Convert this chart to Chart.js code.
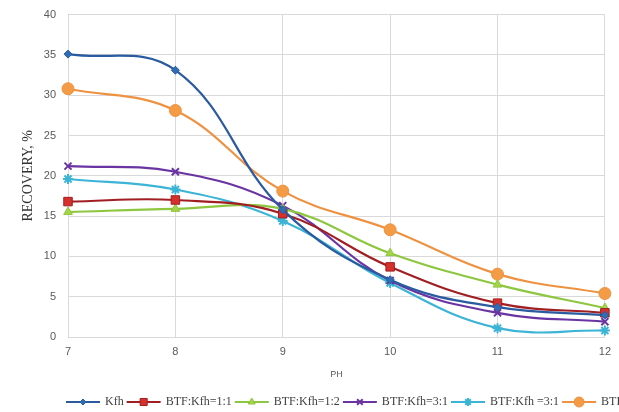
<!DOCTYPE html>
<html>
<head>
<meta charset="utf-8">
<script src="https://cdn.jsdelivr.net/npm/chart.js@4.4.1/dist/chart.umd.min.js"></script>
<style>
  body { margin: 0; background: #fff; overflow: hidden; }
  #myChart { display: block; margin-top: -4px; }
</style>
</head>
<body>
<canvas id="myChart" width="619" height="416"></canvas>
<script>
const phLabels = ['7', '8', '9', '10', '11', '12'];
const yTicks = [0, 5, 10, 15, 20, 25, 30, 35, 40];

const kfh   = [35.1, 33.1, 15.8, 7.1, 3.7, 2.7];
const btf11 = [16.8, 17.0, 15.3, 8.7, 4.2, 3.0];
const btf12 = [15.5, 15.9, 15.9, 10.4, 6.5, 3.6];
const btf31 = [21.2, 20.5, 16.3, 7.0, 3.0, 1.9];
const btf31b = [19.6, 18.3, 14.4, 6.7, 1.1, 0.8];
const btfLast = [30.8, 28.1, 18.1, 13.3, 7.8, 5.4];

const seriesNames = ['Kfh', 'BTF:Kfh=1:1', 'BTF:Kfh=1:2', 'BTF:Kfh=3:1', 'BTF:Kfh =3:1', 'BTF:Kfh=1:3'];

function ds(label, data, line, fill, style, r) {
  return {
    label: label,
    data: data,
    borderColor: line,
    backgroundColor: fill,
    pointBorderColor: line,
    pointBackgroundColor: fill,
    pointStyle: style,
    pointRadius: r,
    pointBorderWidth: style === 'crossRot' || style === 'star' ? 2 : 1,
    borderWidth: 2.2,
    tension: 0.4,
    fill: false
  };
}

// legend drawn by hand so it runs off the right edge like the original
const legendPlugin = {
  id: 'cutLegend',
  afterDraw(chart) {
    const ctx = chart.ctx;
    const y = 406;
    let x = 66;
    ctx.save();
    ctx.font = '12px "Liberation Serif", serif';
    ctx.textBaseline = 'middle';
    chart.data.datasets.forEach(d => {
      ctx.strokeStyle = d.borderColor;
      ctx.lineWidth = 2;
      ctx.beginPath();
      ctx.moveTo(x, y);
      ctx.lineTo(x + 34, y);
      ctx.stroke();
      ctx.fillStyle = d.pointBackgroundColor;
      ctx.strokeStyle = d.pointBorderColor;
      ctx.lineWidth = d.pointBorderWidth;
      Chart.helpers.drawPoint(ctx, {
        pointStyle: d.pointStyle, radius: d.pointRadius - 1, rotation: 0, borderWidth: d.pointBorderWidth
      }, x + 17, y);
      x += 39;
      ctx.fillStyle = '#404040';
      ctx.fillText(d.label, x, y);
      x += ctx.measureText(d.label).width + 3;
    });
    ctx.restore();
  }
};

const ctx = document.getElementById('myChart');

new Chart(ctx, {
  type: 'line',
  data: {
    labels: phLabels,
    datasets: [
      ds(seriesNames[0], kfh, '#2a5a9f', '#2f6db5', 'rectRot', 4),
      ds(seriesNames[1], btf11, '#a11f22', '#d6302c', 'rect', 6),
      ds(seriesNames[2], btf12, '#8dc63f', '#a5d449', 'triangle', 5),
      ds(seriesNames[3], btf31, '#6a35a2', '#6a35a2', 'crossRot', 5),
      ds(seriesNames[4], btf31b, '#3cb4d6', '#3cb4d6', 'star', 5),
      ds(seriesNames[5], btfLast, '#ee9241', '#f39c45', 'circle', 6)
    ]
  },
  options: {
    responsive: false,
    animation: false,
    layout: { padding: { top: 10, right: 11, bottom: 0, left: 0 } },
    plugins: {
      legend: { display: false },
      tooltip: { enabled: false }
    },
    scales: {
      x: {
        grid: { color: '#d9d9d9', drawTicks: false },
        border: { color: '#d9d9d9' },
        ticks: { color: '#595959', font: { family: '"Liberation Sans", sans-serif', size: 11 }, padding: 8, maxRotation: 0 },
        title: { display: true, text: 'PH', color: '#595959', font: { family: '"Liberation Sans", sans-serif', size: 9 }, padding: { top: 0, bottom: 32 } },
        afterFit(scale) { scale.height = 75; }
      },
      y: {
        min: 0,
        max: 40,
        afterBuildTicks(scale) { scale.ticks = yTicks.map(v => ({ value: v })); },
        grid: { color: '#d9d9d9', drawTicks: false },
        border: { color: '#d9d9d9' },
        ticks: { color: '#595959', font: { family: '"Liberation Sans", sans-serif', size: 11 }, padding: 12 },
        title: { display: true, text: 'RECOVERY, %', color: '#333333', font: { family: '"Liberation Serif", serif', size: 14 }, padding: { top: 20, bottom: 0 } },
        afterFit(scale) { scale.width = 68; }
      }
    }
  },
  plugins: [legendPlugin]
});
</script>
</body>
</html>
